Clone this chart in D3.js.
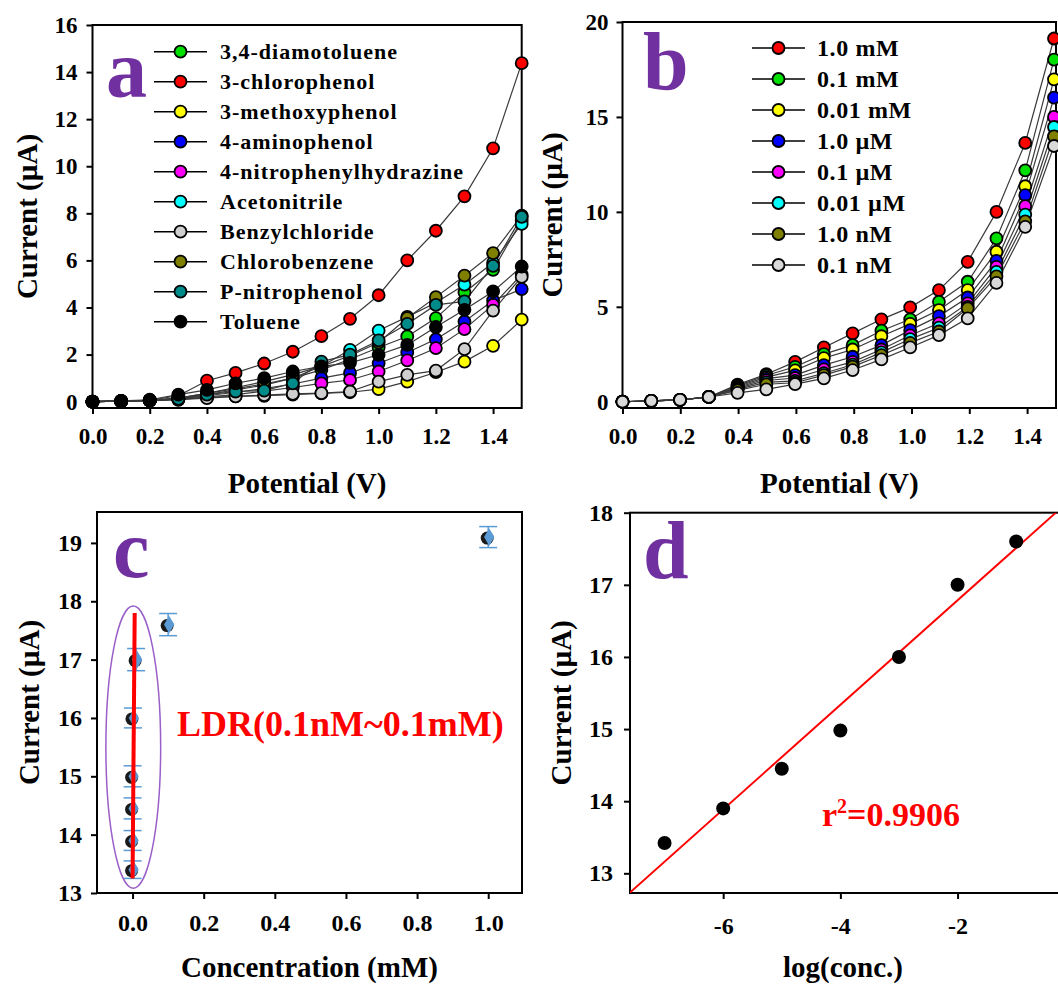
<html lang="en">
<head>
<meta charset="utf-8">
<title>Sensor response panels</title>
<style>
  body { margin: 0; background: white; }
  svg { background: white; font-family: "Liberation Serif", "Times New Roman", serif; font-weight: bold; }
  .frame { fill: none; stroke: black; stroke-width: 2; }
  .axis path { display: none; }
  .axis line { stroke: black; stroke-width: 2; }
  .axis text { fill: black; font-family: "Liberation Serif", serif; font-weight: bold; }
  .series { fill: none; stroke: #3a3a3a; stroke-width: 1.2; }
  .dot { stroke: black; stroke-width: 1.8; }
  .title { font-size: 29px; fill: black; }
  .letter { font-size: 82px; fill: #7030a0; }
</style>
</head>
<body>
<script src="https://cdnjs.cloudflare.com/ajax/libs/d3/7.8.5/d3.min.js"></script>
<script>
// ---- data ----
var potential = [0, 0.1, 0.2, 0.3, 0.4, 0.5, 0.6, 0.7, 0.8, 0.9, 1.0, 1.1, 1.2, 1.3, 1.4, 1.5];

// panel a: different chemicals
var chemNames = ["3,4-diamotoluene", "3-chlorophenol", "3-methoxyphenol", "4-aminophenol",
  "4-nitrophenylhydrazine", "Acetonitrile", "Benzylchloride", "Chlorobenzene", "P-nitrophenol", "Toluene"];
var chemColors = ["#00e000", "#ff0000", "#ffff00", "#0000ff", "#ff00ff", "#00ffff", "#cfcfcf", "#808000", "#008b8b", "#000000"];
var chemCurrents = [
  [0, 0.02, 0.05, 0.15, 0.35, 0.55, 0.75, 1.0, 1.35, 1.8, 2.3, 2.77, 3.55, 4.64, 5.6, 7.7],
  [0, 0.03, 0.06, 0.25, 0.89, 1.22, 1.62, 2.12, 2.78, 3.52, 4.52, 6.0, 7.26, 8.72, 10.76, 14.38],
  [0, 0.02, 0.04, 0.1, 0.18, 0.22, 0.25, 0.3, 0.35, 0.4, 0.53, 0.85, 1.25, 1.7, 2.37, 3.48],
  [0, 0.02, 0.05, 0.12, 0.25, 0.4, 0.55, 0.75, 1.0, 1.22, 1.63, 2.09, 2.65, 3.4, 4.3, 4.78],
  [0, 0.02, 0.05, 0.1, 0.2, 0.3, 0.45, 0.6, 0.78, 0.92, 1.28, 1.75, 2.27, 3.08, 4.11, 5.4],
  [0, 0.02, 0.05, 0.12, 0.3, 0.5, 0.7, 1.0, 1.5, 2.2, 3.02, 3.6, 4.2, 4.97, 5.9, 7.55],
  [0, 0.02, 0.04, 0.08, 0.15, 0.22, 0.28, 0.33, 0.36, 0.43, 0.85, 1.14, 1.32, 2.23, 3.87, 5.3],
  [0, 0.02, 0.05, 0.15, 0.35, 0.6, 0.85, 1.15, 1.5, 1.95, 2.51, 3.55, 4.44, 5.35, 6.31, 7.9],
  [0, 0.02, 0.05, 0.12, 0.3, 0.43, 0.47, 0.78, 1.7, 2.0, 2.6, 3.3, 4.11, 4.26, 5.77, 7.85],
  [0, 0.03, 0.08, 0.3, 0.5, 0.78, 1.0, 1.28, 1.5, 1.65, 1.99, 2.41, 3.17, 3.9, 4.68, 5.74]
];

// panel b: 3-chlorophenol concentrations
var concNames = ["1.0 mM", "0.1 mM", "0.01 mM", "1.0 \u00b5M", "0.1 \u00b5M", "0.01 \u00b5M", "1.0 nM", "0.1 nM"];
var concColors = ["#ff0000", "#00e000", "#ffff00", "#0000ff", "#ff00ff", "#00ffff", "#808000", "#d9d9d9"];
var concCurrents = [
  [0, 0.05, 0.1, 0.25, 0.9, 1.45, 2.1, 2.86, 3.6, 4.34, 4.97, 5.88, 7.37, 10.0, 13.63, 19.13],
  [0, 0.05, 0.1, 0.25, 0.85, 1.38, 1.84, 2.51, 2.98, 3.74, 4.34, 5.26, 6.32, 8.6, 12.19, 18.02],
  [0, 0.05, 0.1, 0.25, 0.8, 1.3, 1.65, 2.3, 2.75, 3.45, 4.1, 4.83, 5.88, 7.9, 11.35, 16.98],
  [0, 0.05, 0.1, 0.25, 0.75, 1.22, 1.4, 1.93, 2.37, 2.98, 3.77, 4.51, 5.49, 7.42, 10.88, 16.02],
  [0, 0.05, 0.1, 0.25, 0.7, 1.12, 1.25, 1.7, 2.1, 2.75, 3.5, 4.13, 5.18, 7.1, 10.3, 15.0],
  [0, 0.05, 0.1, 0.25, 0.65, 1.02, 1.1, 1.5, 1.95, 2.6, 3.3, 3.9, 5.0, 6.84, 9.86, 14.47],
  [0, 0.05, 0.1, 0.25, 0.6, 0.92, 1.0, 1.4, 1.85, 2.45, 3.1, 3.7, 4.92, 6.6, 9.5, 13.98],
  [0, 0.05, 0.1, 0.25, 0.47, 0.65, 0.93, 1.23, 1.67, 2.23, 2.86, 3.51, 4.39, 6.26, 9.21, 13.47]
];

// panel c: calibration (mM)
var calConc = [1e-7, 1e-6, 1e-5, 1e-4, 1e-3, 1e-2, 0.1, 1.0];
var calCurrent = [13.4, 13.9, 14.45, 15.0, 16.0, 17.0, 17.6, 19.1];
var calError = [0.15, 0.17, 0.18, 0.18, 0.17, 0.19, 0.19, 0.18];
var ldrLine = { x: [0, 0.006], y: [13.25, 17.8] };
var ldrEllipse = { cx: 0.002, cy: 15.5, rx: 0.077, ry: 2.42 };

// panel d: log plot
var logConc = [-7, -6, -5, -4, -3, -2, -1];
var logCurrent = [13.42, 13.9, 14.45, 14.98, 16.0, 17.0, 17.6];

// ---- chart ----
var svg = d3.select("body").append("svg")
  .attr("width", 1058)
  .attr("height", 984);

function panel(p) {
  var x = d3.scaleLinear().domain(p.xd).range([p.left, p.right]);
  var y = d3.scaleLinear().domain(p.yd).range([p.bottom, p.top]);
  var g = svg.append("g");

  g.append("g").attr("class", "axis")
    .attr("transform", "translate(0," + p.bottom + ")")
    .call(d3.axisBottom(x).tickValues(p.xt).tickSize(6).tickPadding(p.xpad).tickFormat(p.xf))
    .selectAll("text").style("font-size", p.fs + "px");
  g.append("g").attr("class", "axis")
    .attr("transform", "translate(" + p.left + ",0)")
    .call(d3.axisLeft(y).tickValues(p.yt).tickSize(6).tickPadding(p.ypad).tickFormat(function(d) { return String(d); }))
    .selectAll("text").style("font-size", p.fs + "px");

  g.append("rect").attr("class", "frame")
    .attr("x", p.left).attr("y", p.top)
    .attr("width", p.right - p.left).attr("height", p.bottom - p.top);

  g.append("text").attr("class", "title")
    .attr("x", (p.left + p.right) / 2).attr("y", p.xtY)
    .attr("text-anchor", "middle").text(p.xTitle);
  g.append("text").attr("class", "title")
    .attr("transform", "translate(" + p.ytX + "," + ((p.top + p.bottom) / 2) + ") rotate(-90)")
    .attr("text-anchor", "middle").attr("dy", "0.35em").text("Current (\u00b5A)");

  g.append("text").attr("class", "letter")
    .attr("x", p.letterX).attr("y", p.letterY).text(p.letter);
  return { x: x, y: y, g: g };
}

function curves(P, names, colors, values, leg) {
  var line = d3.line()
    .x(function(d, i) { return P.x(potential[i]); })
    .y(function(d) { return P.y(d); });
  values.forEach(function(vals, k) {
    P.g.append("path").attr("class", "series").attr("d", line(vals));
  });
  values.forEach(function(vals, k) {
    P.g.selectAll(null).data(vals).enter().append("circle")
      .attr("class", "dot")
      .attr("cx", function(d, i) { return P.x(potential[i]); })
      .attr("cy", function(d) { return P.y(d); })
      .attr("r", 6)
      .attr("fill", colors[k]);
  });
  // legend
  names.forEach(function(n, k) {
    var yy = leg.y0 + k * leg.dy;
    P.g.append("line").attr("x1", leg.x1).attr("x2", leg.x2).attr("y1", yy).attr("y2", yy)
      .attr("stroke", "black").attr("stroke-width", 1.6);
    P.g.append("circle").attr("class", "dot").attr("cx", (leg.x1 + leg.x2) / 2).attr("cy", yy)
      .attr("r", 6).attr("fill", colors[k]);
    P.g.append("text").attr("x", leg.tx).attr("y", yy).attr("dy", "0.35em")
      .style("font-size", leg.fs + "px").style("letter-spacing", leg.ls + "px").text(n);
  });
}

// panel a
var A = panel({ left: 92.5, right: 521.7, top: 25, bottom: 408, xd: [0, 1.5], yd: [-0.27, 16],
  xt: [0, 0.2, 0.4, 0.6, 0.8, 1.0, 1.2, 1.4], yt: [0, 2, 4, 6, 8, 10, 12, 14, 16],
  xf: d3.format(".1f"), xpad: 14, ypad: 9, fs: 23,
  xTitle: "Potential (V)", xtY: 493, ytX: 27, letter: "a", letterX: 106, letterY: 97 });
curves(A, chemNames, chemColors, chemCurrents, { x1: 154, x2: 207, tx: 220, y0: 51.7, dy: 30, fs: 22, ls: 1.0 });

// panel b
var B = panel({ left: 622.5, right: 1056, top: 22, bottom: 408, xd: [0, 1.5], yd: [-0.33, 20],
  xt: [0, 0.2, 0.4, 0.6, 0.8, 1.0, 1.2, 1.4], yt: [0, 5, 10, 15, 20],
  xf: d3.format(".1f"), xpad: 14, ypad: 8, fs: 23,
  xTitle: "Potential (V)", xtY: 493, ytX: 552, letter: "b", letterX: 643, letterY: 89 });
B.x.range([622.5, 1054]);
curves(B, concNames, concColors, concCurrents, { x1: 752, x2: 805, tx: 817, y0: 48, dy: 31, fs: 24, ls: 0.6 });

// panel c
var C = panel({ left: 97, right: 522, top: 512, bottom: 893, xd: [-0.1, 1.095], yd: [13, 19.53],
  xt: [0, 0.2, 0.4, 0.6, 0.8, 1.0], yt: [13, 14, 15, 16, 17, 18, 19],
  xf: d3.format(".1f"), xpad: 15, ypad: 9, fs: 24,
  xTitle: "Concentration (mM)", xtY: 977, ytX: 29, letter: "c", letterX: 113, letterY: 577 });

C.g.selectAll(null).data(calConc).enter().append("g").each(function(d, i) {
  var gx = C.x(d), e = calError[i];
  var s = d3.select(this);
  s.append("line").attr("x1", gx).attr("x2", gx)
    .attr("y1", C.y(calCurrent[i] - e)).attr("y2", C.y(calCurrent[i] + e))
    .attr("stroke", "#5b9bd5").attr("stroke-width", 1.5);
  [calCurrent[i] - e, calCurrent[i] + e].forEach(function(v) {
    s.append("line").attr("x1", gx - 9).attr("x2", gx + 9).attr("y1", C.y(v)).attr("y2", C.y(v))
      .attr("stroke", "#5b9bd5").attr("stroke-width", 1.5);
  });
  s.append("circle").attr("cx", gx - 1).attr("cy", C.y(calCurrent[i]) + 1).attr("r", 6.5).attr("fill", "#1a1a1a");
  s.append("path").attr("d", d3.symbol().type(d3.symbolDiamond).size(90)())
    .attr("transform", "translate(" + (gx + 1) + "," + C.y(calCurrent[i]) + ")")
    .attr("fill", "#5b9bd5");
});

C.g.append("ellipse")
  .attr("cx", C.x(ldrEllipse.cx)).attr("cy", C.y(ldrEllipse.cy))
  .attr("rx", C.x(ldrEllipse.rx) - C.x(0)).attr("ry", C.y(ldrEllipse.cy - ldrEllipse.ry) - C.y(ldrEllipse.cy))
  .attr("fill", "none").attr("stroke", "#9a5fc8").attr("stroke-width", 1.5);
C.g.append("line")
  .attr("x1", C.x(ldrLine.x[0])).attr("y1", C.y(ldrLine.y[0]))
  .attr("x2", C.x(ldrLine.x[1])).attr("y2", C.y(ldrLine.y[1]))
  .attr("stroke", "red").attr("stroke-width", 4);
C.g.append("text").attr("x", 177).attr("y", 736)
  .style("font-size", "36px").attr("fill", "red").text("LDR(0.1nM~0.1mM)");

// panel d
var D = panel({ left: 630, right: 1080, top: 512.7, bottom: 893, xd: [-7.59, -7.59 + 450 / 58.6], yd: [12.727, 18],
  xt: [-6, -4, -2], yt: [13, 14, 15, 16, 17, 18],
  xf: function(d) { return String(d); }, xpad: 18, ypad: 11, fs: 24,
  xTitle: "log(conc.)", xtY: 977, ytX: 561, letter: "d", letterX: 643, letterY: 578 });
D.g.select(".title").attr("x", 843);

// least squares fit
var mx = d3.mean(logConc), my = d3.mean(logCurrent);
var sxy = d3.sum(logConc, function(v, i) { return (v - mx) * (logCurrent[i] - my); });
var sxx = d3.sum(logConc, function(v) { return (v - mx) * (v - mx); });
var slope = sxy / sxx, icpt = my - slope * mx;
var xd = D.x.domain();

svg.append("clipPath").attr("id", "clipd").append("rect")
  .attr("x", 630).attr("y", 512.7).attr("width", 450).attr("height", 893 - 512.7);
D.g.append("line").attr("clip-path", "url(#clipd)")
  .attr("x1", D.x(xd[0])).attr("y1", D.y(icpt + slope * xd[0]))
  .attr("x2", D.x(xd[1])).attr("y2", D.y(icpt + slope * xd[1]))
  .attr("stroke", "red").attr("stroke-width", 2);
D.g.selectAll(null).data(logConc).enter().append("circle")
  .attr("cx", function(d) { return D.x(d); })
  .attr("cy", function(d, i) { return D.y(logCurrent[i]); })
  .attr("r", 7).attr("fill", "black");
var r2 = D.g.append("text").attr("x", 822).attr("y", 826).style("font-size", "34px").attr("fill", "red");
r2.append("tspan").text("r");
r2.append("tspan").attr("dy", -13).style("font-size", "20px").text("2");
r2.append("tspan").attr("dy", 13).text("=0.9906");
</script>
</body>
</html>
